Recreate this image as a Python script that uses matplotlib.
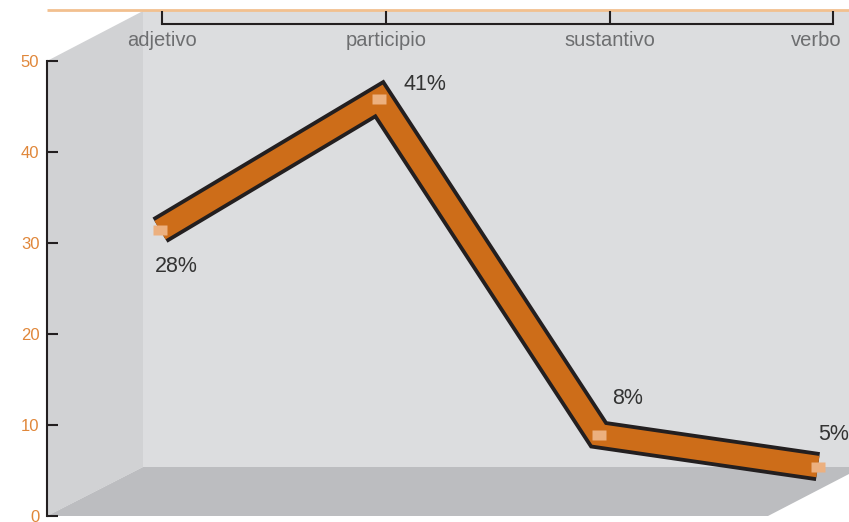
import matplotlib
matplotlib.use("Agg")
import matplotlib.pyplot as plt
import matplotlib.transforms as mtransforms
from matplotlib.patches import Polygon

plt.rcParams['font.family'] = ['Liberation Sans', 'DejaVu Sans']

# data
categories = ['adjetivo', 'participio', 'sustantivo', 'verbo']
values = [31.4, 45.8, 8.9, 5.4]       # height of each point on the 0-50 axis
percent_labels = [28, 41, 8, 5]
y_ticks = [0, 10, 20, 30, 40, 50]

W, H = 849, 522
fig = plt.figure(figsize=(W / 100, H / 100), dpi=100)

# fake 3d box, drawn in pixel coordinates
bg = fig.add_axes([0, 0, 1, 1])
bg.set_xlim(0, W)
bg.set_ylim(H, 0)
bg.axis('off')
bg.add_patch(Polygon([(143, 11), (W, 11), (W, 467), (143, 467)], closed=True, fc='#dcdddf', ec='none'))
bg.add_patch(Polygon([(47, 61), (143, 11), (143, 467), (47, 516)], closed=True, fc='#d1d2d4', ec='none'))
bg.add_patch(Polygon([(47, 516), (143, 467), (W, 467), (W, 474), (768, 516)], closed=True, fc='#bcbdc0', ec='none'))
bg.plot([47, W], [10, 10], color='#f2c08f', lw=2, solid_capstyle='butt')

# main axes: y scale lives on the front-left edge
ax = fig.add_axes([47 / W, 6.3 / H, (W - 47) / W, 454.7 / H])
ax.set_facecolor('none')
ax.set_ylim(0, 50)
ax.set_xlim((47 - 160) / 219.3, (W - 160) / 219.3)

x = list(range(len(categories)))
ax.plot(x, values, color='#231f20', lw=21, solid_joinstyle='miter', solid_capstyle='butt', zorder=3)
ax.plot(x, values, color='#cd6d19', lw=15.5, solid_joinstyle='miter', solid_capstyle='butt', zorder=4)
rect = [(-1.4, -1), (1.4, -1), (1.4, 1), (-1.4, 1)]
ax.plot(x, values, ls='none', marker=rect, ms=10, mfc='#ecb07f', mec='none', zorder=5)

label_offsets = [(-5, -42), (24, 9), (14, 31), (0, 27)]
for i, (v, p) in enumerate(zip(values, percent_labels)):
    ax.annotate('%d%%' % p, xy=(i, v), xytext=label_offsets[i], textcoords='offset pixels',
                ha='left', va='baseline', fontsize=15.5, color='#333333', zorder=6)

# category axis along the top of the back wall
ax_top = ax.twiny()
ax_top.set_xlim((47 - 162.2) / 223.7, (W - 162.2) / 223.7)
for s in ['left', 'right', 'bottom']:
    ax_top.spines[s].set_visible(False)
ax_top.spines['top'].set_position(('data', 54.07))
ax_top.spines['top'].set_bounds(0, 3)
ax_top.spines['top'].set_color('#231f20')
ax_top.spines['top'].set_linewidth(1.5)
ax_top.set_xticks(x)
ax_top.set_xticklabels([])
ax_top.tick_params(axis='x', direction='out', length=9.4, width=1.5, color='#231f20')

trans = mtransforms.blended_transform_factory(ax_top.transData, ax.transData)
for i, cat in enumerate(categories):
    last = i == len(categories) - 1
    ax_top.annotate(cat, xy=(i, 51.65), xycoords=trans, xytext=(8 if last else 0, 0),
                    textcoords='offset pixels', ha='right' if last else 'center',
                    va='baseline', fontsize=14.5, color='#6d6e70')

# twiny turns the bottom ticks back on, so set these afterwards
for s in ['top', 'right', 'bottom']:
    ax.spines[s].set_visible(False)
ax.spines['left'].set_color('#231f20')
ax.spines['left'].set_linewidth(1.5)
ax.set_yticks(y_ticks)
ax.tick_params(axis='y', direction='in', length=8, width=1.5, color='#231f20',
               labelcolor='#e0873a', labelsize=12, pad=5.5)
ax.tick_params(axis='x', bottom=False, top=False, labelbottom=False, labeltop=False)

fig.savefig('out.png', dpi=100)
